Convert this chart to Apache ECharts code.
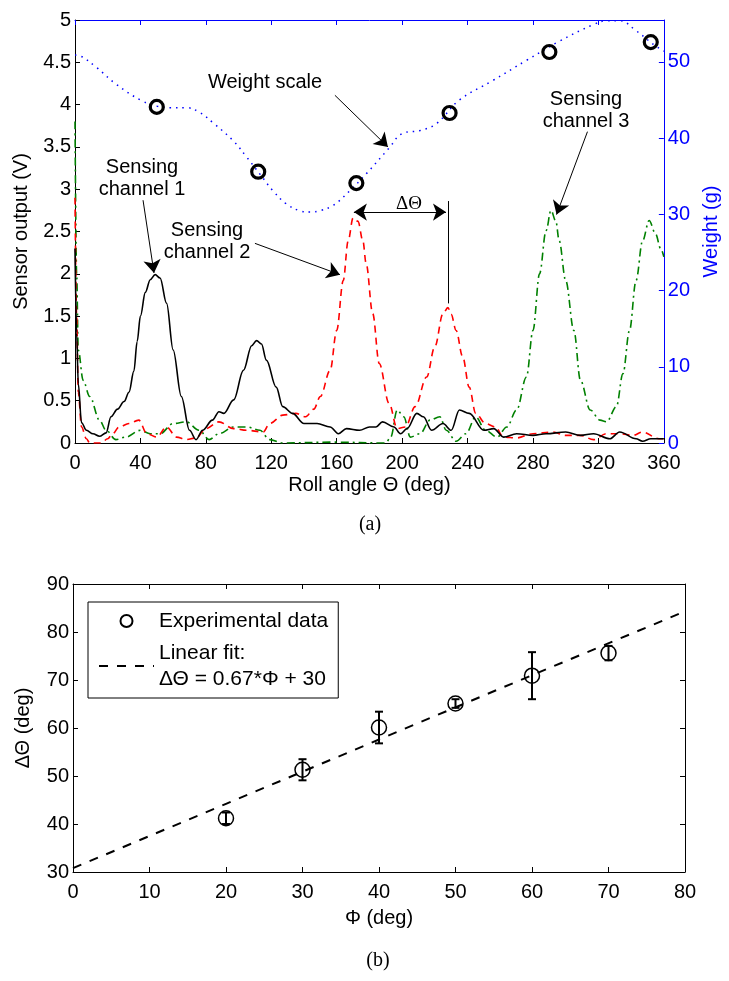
<!DOCTYPE html>
<html><head><meta charset="utf-8">
<script src="https://cdn.jsdelivr.net/npm/echarts@6/dist/echarts.min.js"></script>
<style>html,body{margin:0;padding:0;background:#fff}#c{width:729px;height:981px}</style>
</head><body><div id="c"></div>
<script>
// ---------- Panel (a) data: roll angle (deg) vs sensor output (V) ----------
const ch1Points = [[0,2.3],[1,1.3],[2,0.7],[4,0.24],[7,0.15],[11,0.11],[15,0.08],[19,0.12],[22,0.31],[26,0.4],[30,0.49],[33,0.6],[36,0.85],[38,1.2],[40,1.5],[43,1.78],[46,1.93],[49,1.99],[52,1.95],[56,1.65],[60,1.10],[65,0.55],[70,0.15],[74,0.04],[78,0.15],[84,0.27],[88,0.37],[91,0.35],[97,0.51],[103,0.86],[108,1.15],[111,1.21],[114,1.17],[117,0.98],[123,0.66],[127,0.43],[133,0.35],[140,0.23],[148,0.23],[156,0.19],[161,0.11],[166,0.17],[174,0.15],[180,0.19],[184,0.19],[188,0.25],[195,0.19],[199,0.11],[203,0.17],[209,0.35],[213,0.31],[218,0.15],[225,0.23],[230,0.15],[235,0.39],[241,0.35],[250,0.15],[256,0.17],[262,0.07],[270,0.11],[280,0.09],[288,0.11],[300,0.13],[309,0.09],[317,0.11],[327,0.05],[333,0.13],[343,0.05],[347,0.02],[352,0.05],[360,0.05]];
const ch2Points = [[0,2.9],[1,1.5],[2,0.6],[4,0.19],[7,0.05],[9,0],[16,0],[20,0.05],[23,0.11],[27,0.19],[33,0.23],[39,0.27],[44,0.11],[50,0.07],[56,0.19],[62,0.07],[68,0.04],[74,0.06],[80,0.17],[88,0.25],[97,0.17],[105,0.15],[115,0.13],[119,0.23],[127,0.33],[135,0.35],[141,0.31],[146,0.4],[150,0.55],[156,0.86],[160,1.33],[164,1.92],[167,2.39],[170,2.66],[173,2.62],[176,2.39],[178,2.12],[182,1.53],[186,0.94],[192,0.47],[197,0.17],[202,0.19],[208,0.43],[215,0.78],[220,1.14],[225,1.53],[228,1.6],[230,1.52],[233,1.33],[237,1.02],[241,0.66],[245,0.35],[251,0.23],[257,0.19],[262,0.07],[270,0.06],[280,0.11],[292,0.13],[300,0.09],[309,0.09],[317,0.04],[325,0.11],[333,0.11],[341,0.09],[347,0.13],[357,0.05],[360,0.05]];
const ch3Points = [[0,3.8],[1,2.0],[2,1.1],[5,0.74],[9,0.55],[15,0.27],[19,0.15],[25,0.04],[31,0.07],[40,0.15],[46,0.11],[52,0.11],[60,0.23],[68,0.25],[76,0.15],[82,0.04],[88,0.11],[97,0.19],[105,0.19],[113,0.15],[119,0.04],[127,0],[158,0.01],[190,0],[193,0.07],[197,0.39],[201,0.31],[205,0.07],[211,0.11],[217,0.27],[223,0.31],[227,0.15],[233,0.02],[239,0.11],[245,0.31],[251,0.15],[258,0.07],[264,0.19],[270,0.39],[276,0.78],[280,1.33],[284,2.0],[288,2.51],[291,2.75],[294,2.62],[296,2.39],[300,1.92],[305,1.33],[309,0.74],[315,0.39],[321,0.27],[325,0.25],[331,0.43],[335,0.82],[339,1.33],[343,1.92],[347,2.39],[351,2.63],[355,2.47],[358,2.3],[360,2.2]];
// weight scale curve (g)
const weightCurve = [[0,50.9],[3,50.8],[13,49.3],[25,47.1],[40,45.0],[50,44.2],[58,44.0],[68,44.0],[76,43.4],[85,41.9],[97,39.6],[105,37.5],[113,35.3],[121,33.1],[129,31.4],[137,30.5],[144,30.3],[150,30.5],[158,31.2],[168,33.1],[178,35.3],[192,38.7],[200,40.6],[211,41.0],[221,41.9],[235,45.0],[255,47.5],[276,50.2],[296,52.7],[317,54.9],[325,55.4],[333,55.4],[343,54.1],[353,52.4],[360,51.4]];
const weightDeg = [50,112,172,229,290,352];
const weightG = [44.1,35.6,34.1,43.3,51.3,52.6];
const xTicksA = {min:0,max:360,step:40};
const yTicksA = {min:0,max:5,step:0.5};
const yTicksW = {min:0,max:55.5,step:10};

// ---------- Panel (b) data ----------
const phi = [20,30,40,50,60,70];
const dTheta = [41.2,51.3,60.1,65.1,70.9,75.6];
const dThetaErr = [1.2,2.2,3.3,0.9,4.9,1.5];
const fitPhi = [0,20,40,60,80];
const fitTheta = [30.8,44.2,57.6,71.0,84.3];
const xTicksB = {min:0,max:80,step:10};
const yTicksB = {min:30,max:90,step:10};

const FONT = 'Liberation Sans';
const BLUE = '#0000ff';

const chart = echarts.init(document.getElementById('c'), null, {renderer:'canvas'});

function axisBase(color){
  return {
    axisLine:{show:true,onZero:false,lineStyle:{color:color,width:1}},
    axisTick:{show:true,inside:true,length:5,lineStyle:{color:color,width:1}},
    splitLine:{show:false},
    axisLabel:{color:color,fontSize:20,fontFamily:FONT},
    nameTextStyle:{color:color,fontSize:20,fontFamily:FONT}
  };
}

const errData = phi.map((p,i)=>[p, dTheta[i]-dThetaErr[i], dTheta[i]+dThetaErr[i]]);
const fitName = 'Linear fit:\nΔΘ = 0.67*Φ + 30';

const arrowLines = [
  [{coord:[158.9,4.11]},{coord:[191.3,3.50]}],
  [{coord:[41.6,2.87]},{coord:[48.3,2.01]}],
  [{coord:[110,2.36]},{coord:[162,1.99]}],
  [{coord:[313.3,3.68]},{coord:[294.4,2.70]}],
  [{coord:[170.5,2.73],symbol:'arrow'},{coord:[226.8,2.73]}],
  [{coord:[228,2.86],symbol:'none'},{coord:[228,1.65],symbol:'none'}]
];

const option = {
  animation:false,
  textStyle:{fontFamily:FONT},
  grid:[
    {left:75,right:65,top:20,bottom:538,containLabel:false},
    {left:73,right:44,top:584,bottom:109,containLabel:false}
  ],
  xAxis:[
    Object.assign(axisBase('#000'),{gridIndex:0,type:'value',position:'bottom',min:xTicksA.min,max:xTicksA.max,interval:xTicksA.step,
      name:'Roll angle Θ (deg)',nameLocation:'middle',nameGap:32,axisLabel:{color:'#000',fontSize:20,fontFamily:FONT,margin:10}}),
    Object.assign(axisBase(BLUE),{gridIndex:0,type:'value',position:'top',min:xTicksA.min,max:xTicksA.max,interval:xTicksA.step,axisLabel:{show:false}}),
    Object.assign(axisBase('#000'),{gridIndex:1,type:'value',position:'bottom',min:xTicksB.min,max:xTicksB.max,interval:xTicksB.step,
      name:'Φ (deg)',nameLocation:'middle',nameGap:36,axisLabel:{color:'#000',fontSize:20,fontFamily:FONT,margin:10}}),
    Object.assign(axisBase('#000'),{gridIndex:1,type:'value',position:'top',min:xTicksB.min,max:xTicksB.max,interval:xTicksB.step,axisLabel:{show:false}})
  ],
  yAxis:[
    Object.assign(axisBase('#000'),{gridIndex:0,type:'value',position:'left',min:yTicksA.min,max:yTicksA.max,interval:yTicksA.step,
      name:'Sensor output (V)',nameLocation:'middle',nameGap:44,nameRotate:90,axisLabel:{color:'#000',fontSize:20,fontFamily:FONT,margin:4}}),
    Object.assign(axisBase(BLUE),{gridIndex:0,type:'value',position:'right',min:yTicksW.min,max:yTicksW.max,interval:yTicksW.step,
      name:'Weight (g)',nameLocation:'middle',nameGap:25,nameRotate:90,axisLabel:{color:BLUE,fontSize:20,fontFamily:FONT,margin:4,showMaxLabel:false}}),
    Object.assign(axisBase('#000'),{gridIndex:1,type:'value',position:'left',min:yTicksB.min,max:yTicksB.max,interval:yTicksB.step,
      name:'ΔΘ (deg)',nameLocation:'middle',nameGap:40,nameRotate:90,axisLabel:{color:'#000',fontSize:20,fontFamily:FONT,margin:4}}),
    Object.assign(axisBase('#000'),{gridIndex:1,type:'value',position:'right',min:yTicksB.min,max:yTicksB.max,interval:yTicksB.step,axisLabel:{show:false}})
  ],
  legend:{
    data:['Experimental data',{name:fitName,itemStyle:{opacity:0,color:'rgba(0,0,0,0)',borderWidth:0}}],
    orient:'vertical',left:88,top:602,
    selectedMode:false,
    backgroundColor:'#fff',borderColor:'#000',borderWidth:1,borderRadius:0,
    padding:[6,10,6,10],itemGap:6,itemWidth:55,itemHeight:12,
    textStyle:{color:'#000',fontSize:21,fontFamily:FONT,lineHeight:26}
  },
  series:[
    {name:'Sensing channel 1',type:'line',xAxisIndex:0,yAxisIndex:0,data:ch1Points,showSymbol:false,smooth:0.35,smoothMonotone:'x',
      lineStyle:{color:'#000',width:1.6},z:4,
      markLine:{silent:true,symbol:['none','arrow'],symbolSize:[13,13],precision:3,
        label:{show:false},emphasis:{disabled:true},
        lineStyle:{color:'#000',width:1,type:'solid'},data:arrowLines}},
    {name:'Sensing channel 2',type:'line',xAxisIndex:0,yAxisIndex:0,data:ch2Points,showSymbol:false,smooth:0.35,smoothMonotone:'x',
      lineStyle:{color:'#ff0000',width:1.6,type:[7,5]},z:3},
    {name:'Sensing channel 3',type:'line',xAxisIndex:0,yAxisIndex:0,data:ch3Points,showSymbol:false,smooth:0.35,smoothMonotone:'x',
      lineStyle:{color:'#008000',width:1.6,type:[8,4,2,4]},z:2},
    {name:'Weight scale',type:'line',xAxisIndex:0,yAxisIndex:1,data:weightCurve,showSymbol:false,smooth:0.4,
      lineStyle:{color:BLUE,width:1.5,type:[1.5,5]},z:2},
    {name:'Weight',type:'scatter',xAxisIndex:0,yAxisIndex:1,data:weightDeg.map((d,i)=>[d,weightG[i]]),
      symbol:'circle',symbolSize:13,itemStyle:{color:'rgba(0,0,0,0)',borderColor:'#000',borderWidth:3.2,opacity:1},z:6},
    {name:'Experimental data',type:'scatter',xAxisIndex:2,yAxisIndex:2,data:phi.map((p,i)=>[p,dTheta[i]]),
      symbol:'circle',symbolSize:15,itemStyle:{color:'rgba(0,0,0,0)',borderColor:'#000',borderWidth:1.5,opacity:1},z:6},
    {name:'errorbars',type:'custom',xAxisIndex:2,yAxisIndex:2,data:errData,encode:{x:0,y:[1,2]},z:5,
      renderItem:function(params,api){
        const x=api.value(0),lo=api.value(1),hi=api.value(2);
        const a=api.coord([x,hi]),b=api.coord([x,lo]);const w=4;
        const st={stroke:'#000',lineWidth:2};
        return {type:'group',children:[
          {type:'line',shape:{x1:a[0],y1:a[1],x2:b[0],y2:b[1]},style:st},
          {type:'line',shape:{x1:a[0]-w,y1:a[1],x2:a[0]+w,y2:a[1]},style:st},
          {type:'line',shape:{x1:b[0]-w,y1:b[1],x2:b[0]+w,y2:b[1]},style:st}
        ]};
      }},
    {name:fitName,type:'line',xAxisIndex:2,yAxisIndex:2,data:fitPhi.map((p,i)=>[p,fitTheta[i]]),showSymbol:false,symbol:'none',
      lineStyle:{color:'#000',width:2,type:[9,9]},itemStyle:{color:'#000'},z:4}
  ],
  graphic:[
    {type:'text',x:265,y:82,style:{text:'Weight scale',font:'20px "Liberation Sans"',fill:'#000',align:'center',verticalAlign:'middle'}},
    {type:'text',x:142,y:178,style:{text:'Sensing\nchannel 1',font:'20px "Liberation Sans"',fill:'#000',align:'center',verticalAlign:'middle',lineHeight:22}},
    {type:'text',x:207,y:241,style:{text:'Sensing\nchannel 2',font:'20px "Liberation Sans"',fill:'#000',align:'center',verticalAlign:'middle',lineHeight:22}},
    {type:'text',x:586,y:110,style:{text:'Sensing\nchannel 3',font:'20px "Liberation Sans"',fill:'#000',align:'center',verticalAlign:'middle',lineHeight:22}},
    {type:'text',x:409,y:204,style:{text:'ΔΘ',font:'19px "Liberation Serif"',fill:'#000',align:'center',verticalAlign:'middle'}},
    {type:'text',x:370,y:525,style:{text:'(a)',font:'20px "Liberation Serif"',fill:'#000',align:'center',verticalAlign:'middle'}},
    {type:'text',x:378,y:961,style:{text:'(b)',font:'20px "Liberation Serif"',fill:'#000',align:'center',verticalAlign:'middle'}}
  ]
};
chart.setOption(option);
</script></body></html>
